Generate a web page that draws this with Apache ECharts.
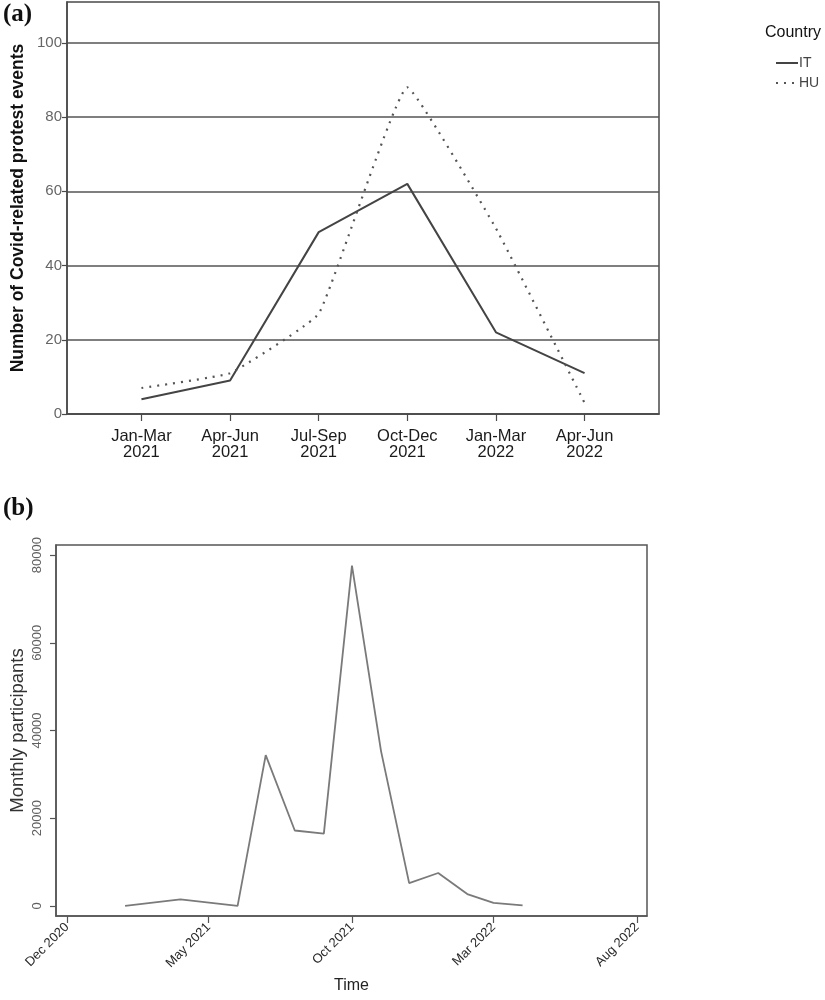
<!DOCTYPE html>
<html>
<head>
<meta charset="utf-8">
<script src="https://cdn.jsdelivr.net/npm/echarts@6/dist/echarts.min.js"></script>
<style>
html,body{margin:0;padding:0;background:#fff;}
#chart{width:825px;height:1000px;}
</style>
</head>
<body>
<div id="chart"></div>
<script>
// ---- Panel (a) data ----
var quarters = ['Jan-Mar\n2021','Apr-Jun\n2021','Jul-Sep\n2021','Oct-Dec\n2021','Jan-Mar\n2022','Apr-Jun\n2022'];
var itEvents = [4, 9, 49, 62, 22, 11];
var huEvents = [7, 11, 27, 88, 50, 3];
var eventTicks = [0, 20, 40, 60, 80, 100];

// ---- Panel (b) data ----
var months = ['2021-02-01','2021-04-01','2021-06-01','2021-07-01','2021-08-01','2021-09-01','2021-10-01','2021-11-01','2021-12-01','2022-01-01','2022-02-01','2022-03-01','2022-04-01'];
var participants = [0, 1500, 0, 34400, 17200, 16500, 77600, 35300, 5200, 7500, 2700, 700, 100];
var participantTicks = [0, 20000, 40000, 60000, 80000];
var timeTicks = ['2020-12-01','2021-05-01','2021-10-01','2022-03-01','2022-08-01'];
var monthNames = ['Jan','Feb','Mar','Apr','May','Jun','Jul','Aug','Sep','Oct','Nov','Dec'];

function ts(s){ var p = s.split('-'); return Date.UTC(+p[0], +p[1]-1, +p[2]); }
var DAY = 86400000;

var itData = itEvents.map(function(v,i){ return [i, v]; });
var huData = huEvents.map(function(v,i){ return [i, v]; });
var partData = months.map(function(m,i){ return [ts(m), participants[i]]; });

var chart = echarts.init(document.getElementById('chart'), null, {renderer:'canvas'});
var FONT = 'Liberation Sans, Arial, sans-serif';

chart.setOption({
  animation: false,
  backgroundColor: '#fff',
  grid: [
    {left: 67, top: 2, width: 592, height: 412, show: true, borderColor: '#4a4a4a', borderWidth: 1.5, backgroundColor: 'transparent',
      containLabel: false, outerBoundsMode: 'none'},
    {left: 56, top: 545, width: 591, height: 371, show: true, borderColor: '#555', borderWidth: 1.5, backgroundColor: 'transparent',
      containLabel: false, outerBoundsMode: 'none'}
  ],
  xAxis: [
    {
      gridIndex: 0, type: 'value', min: -0.84, max: 5.84,
      axisLine: {show: true, onZero: false, lineStyle: {color: '#4a4a4a', width: 1.5}},
      axisTick: {show: true, customValues: [0,1,2,3,4,5], length: 7, lineStyle: {color: '#4a4a4a', width: 1.2}},
      axisLabel: {customValues: [0,1,2,3,4,5], formatter: function(v){ return quarters[Math.round(v)]; },
        color: '#1a1a1a', fontSize: 16.5, fontFamily: FONT, lineHeight: 16, margin: 14},
      splitLine: {show: false}
    },
    {
      gridIndex: 1, type: 'value', min: ts('2020-12-01') - 11.7*DAY, max: ts('2022-08-01') + 10.7*DAY,
      name: 'Time', nameLocation: 'middle', nameGap: 62, nameMoveOverlap: false,
      nameTextStyle: {color: '#222', fontSize: 16, fontFamily: FONT},
      axisLine: {show: true, onZero: false, lineStyle: {color: '#555', width: 1.5}},
      axisTick: {show: true, customValues: timeTicks.map(ts), length: 7, lineStyle: {color: '#555', width: 1.2}},
      axisLabel: {customValues: timeTicks.map(ts), rotate: 45, margin: 9,
        formatter: function(v){ var d = new Date(v); return monthNames[d.getUTCMonth()] + ' ' + d.getUTCFullYear(); },
        color: '#2a2a2a', fontSize: 13, fontFamily: FONT},
      splitLine: {show: false}
    }
  ],
  yAxis: [
    {
      gridIndex: 0, type: 'value', min: 0, max: 111, interval: 20,
      name: 'Number of Covid-related protest events', nameLocation: 'middle', nameGap: 40, nameMoveOverlap: false,
      nameTextStyle: {color: '#111', fontSize: 17.5, fontWeight: 'bold', fontFamily: FONT},
      axisLine: {show: true, onZero: false, lineStyle: {color: '#4a4a4a', width: 1.5}},
      axisTick: {show: true, customValues: eventTicks, length: 5, lineStyle: {color: '#4a4a4a', width: 1.2}},
      axisLabel: {customValues: eventTicks, color: '#666', fontSize: 15, fontFamily: FONT, margin: 5},
      splitLine: {show: true, lineStyle: {color: '#555', width: 1.5}}
    },
    {
      gridIndex: 1, type: 'value', min: -2300, max: 82300,
      name: 'Monthly participants', nameLocation: 'middle', nameGap: 29, nameMoveOverlap: false,
      nameTextStyle: {color: '#333', fontSize: 18.5, fontFamily: FONT},
      axisLine: {show: true, onZero: false, lineStyle: {color: '#555', width: 1.5}},
      axisTick: {show: true, customValues: participantTicks, length: 6, lineStyle: {color: '#555', width: 1.2}},
      axisLabel: {customValues: participantTicks, rotate: 90, color: '#606060', fontSize: 13, fontFamily: FONT, margin: 12,
        formatter: function(v){ return String(Math.round(v)); }},
      splitLine: {show: false}
    }
  ],
  legend: {
    orient: 'vertical', left: 770, top: 51, itemGap: 6, itemWidth: 22, itemHeight: 12,
    itemStyle: {opacity: 0},
    textStyle: {color: '#444', fontSize: 14, fontFamily: FONT, padding: [0,0,0,-4]},
    data: ['IT','HU']
  },
  graphic: [
    {type: 'text', left: 3, top: 2, style: {text: '(a)', font: 'bold 25px "Liberation Serif", serif', fill: '#111'}},
    {type: 'text', left: 3, top: 496, style: {text: '(b)', font: 'bold 25px "Liberation Serif", serif', fill: '#111'}},
    {type: 'text', left: 765, top: 25, style: {text: 'Country', font: '16px "Liberation Sans", Arial, sans-serif', fill: '#111'}}
  ],
  series: [
    {name: 'IT', type: 'line', xAxisIndex: 0, yAxisIndex: 0, data: itData, showSymbol: false, symbol: 'none', smooth: false,
      lineStyle: {color: '#444', width: 2, type: 'solid'}, itemStyle: {color: '#444'}},
    {name: 'HU', type: 'line', xAxisIndex: 0, yAxisIndex: 0, data: huData, showSymbol: false, symbol: 'none', smooth: 0.1,
      lineStyle: {color: '#555', width: 2.2, type: [2, 6]}, itemStyle: {color: '#555'}},
    {name: 'participants', type: 'line', xAxisIndex: 1, yAxisIndex: 1, data: partData, showSymbol: false, symbol: 'none',
      lineStyle: {color: '#7a7a7a', width: 1.8}}
  ]
});
</script>
</body>
</html>
